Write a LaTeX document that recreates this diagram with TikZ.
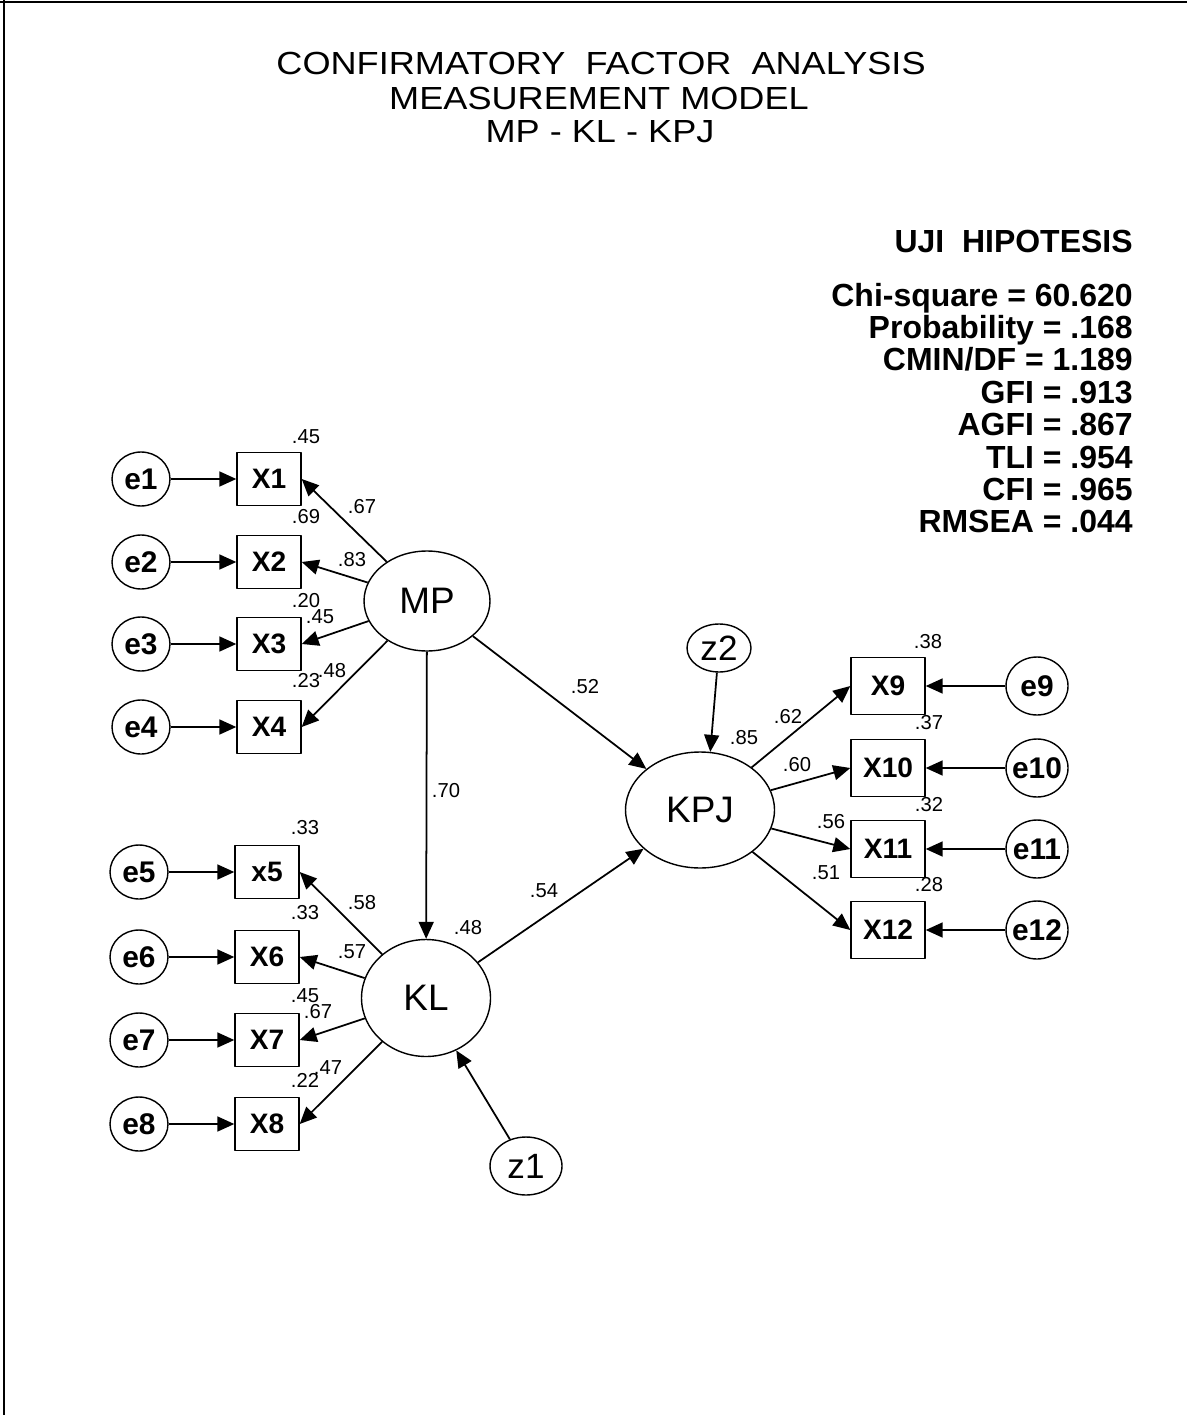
\documentclass[tikz,border=0pt]{standalone}
\usepackage{fontspec}
\setmainfont{Liberation Sans}
\newfontfamily\titlefont[FakeStretch=1.13]{Liberation Sans}
\usetikzlibrary{shapes.geometric,arrows.meta}
\begin{document}
\begin{tikzpicture}[x=0.02cm, y=-0.02cm, line join=round, >={Triangle[length=0.34cm,width=0.3cm]}]
	\tikzset{obs/.style={draw, line width=0.8pt, minimum width=1.28cm, minimum height=1.06cm, inner sep=0pt, font=\fontsize{16}{16}\selectfont\bfseries},
		obsr/.style={obs, minimum width=1.48cm, minimum height=1.14cm},
		err/.style={draw, ellipse, line width=0.8pt, minimum width=1.16cm, minimum height=1.08cm, inner sep=0pt,
			label={[font=\fontsize{17}{17}\selectfont\bfseries]center:#1}},
		errr/.style={err=#1, minimum width=1.24cm, minimum height=1.16cm},
		lat/.style={draw, ellipse, line width=0.8pt, inner sep=0pt, font=\fontsize{21}{21}\selectfont},
		val/.style={font=\fontsize{11.5}{11.5}\selectfont, inner sep=0pt},
		stat/.style={font=\fontsize{18.2}{18.2}\selectfont\bfseries, inner sep=0pt, anchor=base east},
		ttl/.style={font=\titlefont\fontsize{18.2}{18.2}\selectfont, inner sep=0pt, anchor=base},
		path/.style={->, line width=1pt}}
	\useasboundingbox (0,0) rectangle (1187,1415);
	\draw[line width=1.2pt] (0,2) -- (1187,2) (4,0) -- (4,1415);
	% title and fit indices
	\node[ttl] (t1) at (601,75) {CONFIRMATORY\ \ FACTOR\ \ ANALYSIS};
	\node[ttl] (t2) at (599,110) {MEASUREMENT MODEL};
	\node[ttl] (t3) at (600,143) {MP - KL - KPJ};
	\node[stat] (uji) at (1133,253) {UJI\ \ HIPOTESIS};
	\foreach \t/\y [count=\n] in {{Chi-square = 60.620}/306.5, {Probability = .168}/338.8, {CMIN/DF = 1.189}/371,
		{GFI = .913}/403.4, {AGFI = .867}/435.7, {TLI = .954}/468, {CFI = .965}/500.3, {RMSEA = .044}/532.6}
	\node[stat] (s\n) at (1133,\y) {\t};
	% latent variables
	\node[lat, minimum width=2.52cm, minimum height=2.0cm] (mp) at (427,601) {MP};
	\node[lat, minimum width=2.58cm, minimum height=2.34cm] (kl) at (426,998) {KL};
	\node[lat, minimum width=2.98cm, minimum height=2.32cm] (kpj) at (700,810) {KPJ};
	\node[lat, minimum width=1.28cm, minimum height=0.96cm, font=\fontsize{20}{20}\selectfont] (z2) at (719,648) {z2};
	\node[lat, minimum width=1.44cm, minimum height=1.16cm, font=\fontsize{20}{20}\selectfont] (z1) at (526,1166) {z1};
	% indicators
	\foreach \i/\y/\t in {1/479/X1, 2/562/X2, 3/644/X3, 4/727/X4} {
		\node[obs] (x\i) at (269,\y) {\t};
		\node[err=e\i] (e\i) at (141,\y) {};
		\draw[path] (e\i) -- (x\i);
		\draw[path] (mp) -- (x\i.east);
	}
	\foreach \i/\y/\t in {5/872/x5, 6/957/X6, 7/1040/X7, 8/1124/X8} {
		\node[obs] (x\i) at (267,\y) {\t};
		\node[err=e\i] (e\i) at (139,\y) {};
		\draw[path] (e\i) -- (x\i);
		\draw[path] (kl) -- (x\i.east);
	}
	\foreach \i/\y in {9/686, 10/768, 11/849, 12/930} {
		\node[obsr] (x\i) at (888,\y) {X\i};
		\node[errr=e\i] (e\i) at (1037,\y) {};
		\draw[path] (e\i) -- (x\i);
		\draw[path] (kpj) -- (x\i.west);
	}
	% structural paths
	\draw[path] (mp) -- (kl);
	\draw[path] (mp) -- (kpj);
	\draw[path] (kl) -- (kpj);
	\draw[path] (z1) -- (kl.-60);
	\draw[path] (z2) -- (kpj.80);
	% estimates
	\foreach \v/\x/\y [count=\n] in {.45/306/437, .67/362/507, .69/306/517, .83/352/560, .20/306/601, .45/320/617,
		.48/332/671, .23/306/681, .33/305/828, .58/362/903, .33/305/913, .57/352/952, .48/468/928, .54/544/891,
		.45/305/996, .67/318/1012, .47/328/1068, .22/305/1080, .52/585/687, .70/446/791, .38/928/642, .85/744/738,
		.62/788/717, .37/929/723, .60/797/765, .32/929/805, .56/831/822, .51/826/873, .28/929/885}
	\node[val] (v\n) at (\x,\y) {\v};
\end{tikzpicture}
\end{document}
